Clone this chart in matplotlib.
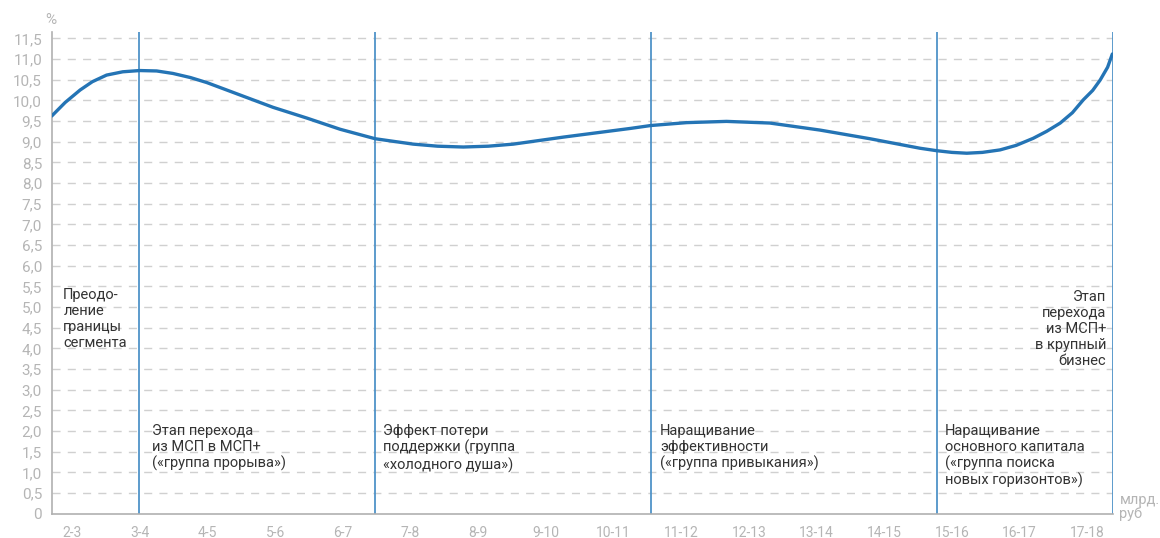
import matplotlib.pyplot as plt
import numpy as np

plt.rcParams['font.family'] = ['Roboto', 'DejaVu Sans']

# size groups, bn rub
groups = ['2-3', '3-4', '4-5', '5-6', '6-7', '7-8', '8-9', '9-10', '10-11',
          '11-12', '12-13', '13-14', '14-15', '15-16', '16-17', '17-18']

# curve, x in group positions (0 = "2-3"), y in %
curve_x = [-0.30, -0.10, 0.12, 0.30, 0.51, 0.75, 1.00, 1.25, 1.49, 1.75, 1.99,
           2.48, 2.97, 3.47, 3.96, 4.48, 5.04, 5.40, 5.78, 6.15, 6.52, 7.26,
           8.25, 8.55, 9.08, 9.67, 10.31, 11.05, 11.79, 12.53, 12.78, 13.00,
           13.22, 13.45, 13.71, 13.95, 14.20, 14.40, 14.60, 14.78, 14.94,
           15.08, 15.19, 15.30, 15.37]
curve_y = [9.62, 9.95, 10.25, 10.45, 10.61, 10.69, 10.72, 10.71, 10.65, 10.55,
           10.43, 10.13, 9.83, 9.57, 9.30, 9.07, 8.94, 8.89, 8.87, 8.89, 8.94,
           9.11, 9.32, 9.39, 9.46, 9.49, 9.45, 9.28, 9.07, 8.84, 8.78, 8.74,
           8.72, 8.74, 8.80, 8.91, 9.08, 9.25, 9.45, 9.70, 10.01, 10.24, 10.49,
           10.80, 11.12]

# stage borders
borders = [0.99, 4.48, 8.55, 12.78, 15.38]

stage_text = [
    (-0.13, 5.45, 'left', 'Преодо-\nление\nграницы\nсегмента'),
    (1.18, 2.18, 'left', 'Этап перехода\nиз МСП в МСП+\n(«группа прорыва»)'),
    (4.60, 2.18, 'left', 'Эффект потери\nподдержки (группа\n«холодного душа»)'),
    (8.69, 2.18, 'left', 'Наращивание\nэффективности\n(«группа привыкания»)'),
    (12.90, 2.18, 'left', 'Наращивание\nосновного капитала\n(«группа поиска\nновых горизонтов»)'),
    (15.28, 5.40, 'right', 'Этап\nперехода\nиз МСП+\nв крупный\nбизнес'),
]

y_ticks = np.arange(0, 11.51, 0.5)

fig = plt.figure(figsize=(11.6, 5.38), dpi=100)
ax = fig.add_axes([0.0446, 0.0452, 0.9149, 0.8959])
ax.set_xlim(-0.30, 15.38)
ax.set_ylim(0, 11.66)

# dashed horizontal grid
for v in y_ticks[1:]:
    ax.axhline(v, color='#d0d0d0', lw=1.0, ls=(0, (5.8, 5.2)), zorder=1)

for b in borders:
    ax.axvline(b, color='#4f93c8', lw=1.3, zorder=2)

ax.plot(curve_x, curve_y, color='#2474b5', lw=2.4, solid_capstyle='round',
        solid_joinstyle='round', zorder=3)

for x, y, ha, txt in stage_text:
    ax.text(x, y, txt, ha=ha, va='top', fontsize=10.5, color='#333333',
            linespacing=1.18, zorder=4)

ax.set_yticks(y_ticks)
ax.set_yticklabels(['0' if v == 0 else f'{v:.1f}'.replace('.', ',') for v in y_ticks])
ax.set_xticks(range(len(groups)))
ax.set_xticklabels(groups)
ax.tick_params(axis='y', length=0, pad=7, labelsize=11, labelcolor='#b5b5b5')
ax.tick_params(axis='x', length=0, pad=9, labelsize=10, labelcolor='#b5b5b5')

for s in ['top', 'right']:
    ax.spines[s].set_visible(False)
ax.spines['left'].set_color('#b0b0b0')
ax.spines['bottom'].set_color('#b0b0b0')
ax.spines['left'].set_linewidth(1.2)
ax.spines['bottom'].set_linewidth(1.2)

fig.text(0.044, 0.963, '%', ha='center', va='center', fontsize=11, color='#b5b5b5')
fig.text(0.965, 0.058, 'млрд.\nруб', ha='left', va='center', fontsize=10.5,
         color='#b5b5b5', linespacing=0.95)

fig.savefig('out.png', dpi=100)
